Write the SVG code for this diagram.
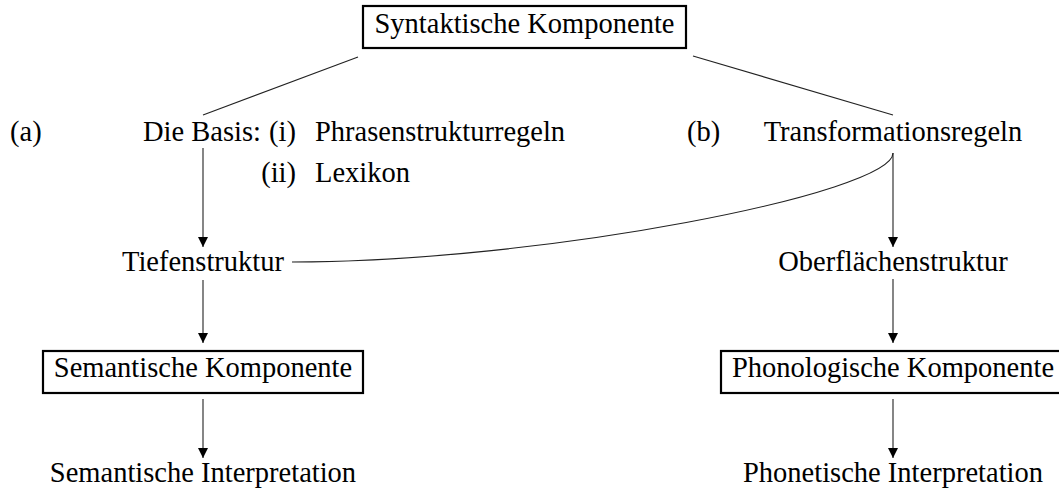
<svg xmlns="http://www.w3.org/2000/svg" width="1059" height="492" viewBox="0 0 1059 492">
<style>
text{font-family:"Liberation Serif","Times New Roman",serif;font-size:28.5px;fill:#000}
.c{text-anchor:middle}
.box{fill:#fff;stroke:#000;stroke-width:2.2}
.edge{fill:none;stroke:#222;stroke-width:1.1}
</style>
<defs>
<marker id="arr" viewBox="0 0 10 10" refX="10" refY="5" markerWidth="10" markerHeight="10" markerUnits="userSpaceOnUse" orient="auto">
<path d="M0,0 L10,5 L0,10 Z" fill="#000"/>
</marker>
</defs>
<rect width="1059" height="492" fill="#fff"/>
<g id="connectors">
<line class="edge" x1="358" y1="57" x2="203" y2="115"/>
<line class="edge" x1="693" y1="56" x2="893" y2="115"/>
<line class="edge" x1="203" y1="148" x2="203" y2="247" marker-end="url(#arr)"/>
<line class="edge" x1="893" y1="153" x2="893" y2="247" marker-end="url(#arr)"/>
<path class="edge" d="M292,262 C542,262 893,193 893,153"/>
<line class="edge" x1="203" y1="280" x2="203" y2="343" marker-end="url(#arr)"/>
<line class="edge" x1="893" y1="279" x2="893" y2="343" marker-end="url(#arr)"/>
<line class="edge" x1="203" y1="399" x2="203" y2="458" marker-end="url(#arr)"/>
<line class="edge" x1="893" y1="399" x2="893" y2="458" marker-end="url(#arr)"/>
</g>
<g id="syntaktische">
<rect class="box" x="363" y="6" width="323" height="42"/>
<text class="c" x="524.5" y="33">Syntaktische Komponente</text>
</g>
<g id="label-a"><text x="10" y="141">(a)</text></g>
<g id="basis">
<text x="143" y="141">Die Basis:</text>
<text x="296" y="141" text-anchor="end">(i)</text>
<text x="315" y="141">Phrasenstrukturregeln</text>
<text x="296" y="182" text-anchor="end">(ii)</text>
<text x="315" y="182">Lexikon</text>
</g>
<g id="label-b"><text x="687" y="141">(b)</text></g>
<g id="transformationsregeln"><text class="c" x="893" y="141">Transformationsregeln</text></g>
<g id="tiefenstruktur"><text class="c" x="203" y="271">Tiefenstruktur</text></g>
<g id="oberflaechenstruktur"><text class="c" x="893" y="271">Oberflächenstruktur</text></g>
<g id="semantische-komponente">
<rect class="box" x="43" y="351" width="320" height="42"/>
<text class="c" x="203" y="377">Semantische Komponente</text>
</g>
<g id="phonologische-komponente">
<rect class="box" x="721" y="351" width="344" height="42"/>
<text class="c" x="893" y="377">Phonologische Komponente</text>
</g>
<g id="semantische-interpretation"><text class="c" x="203" y="482">Semantische Interpretation</text></g>
<g id="phonetische-interpretation"><text class="c" x="893" y="482">Phonetische Interpretation</text></g>
</svg>
